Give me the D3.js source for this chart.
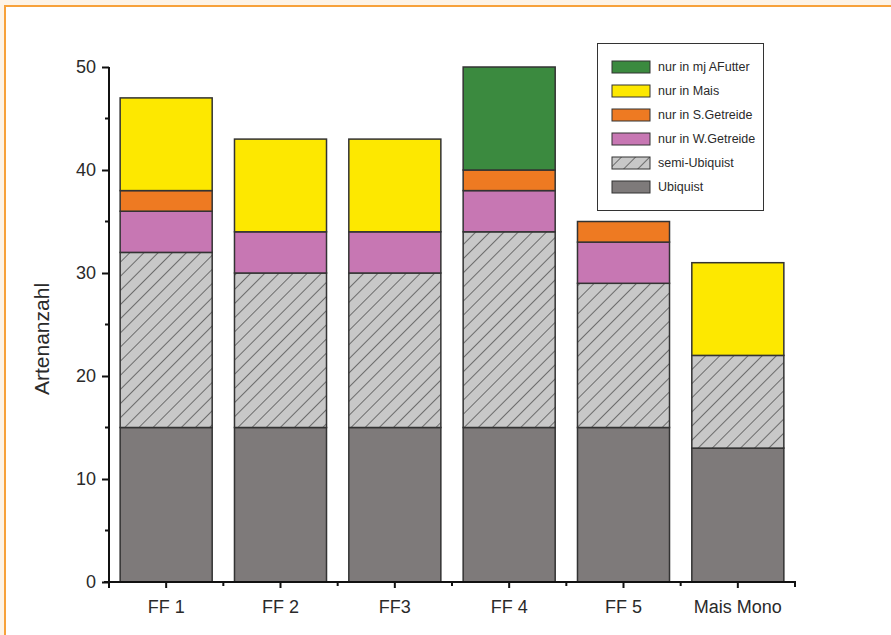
<!DOCTYPE html>
<html><head><meta charset="utf-8">
<script src="https://cdn.jsdelivr.net/npm/d3@7"></script>
<style>
html,body{margin:0;padding:0;background:#fdf3e6;}
svg{display:block;font-family:"Liberation Sans",Arial,sans-serif;}
</style></head>
<body>
<svg id="c" width="891" height="635"></svg>
<script>
const categories = ["FF 1","FF 2","FF3","FF 4","FF 5","Mais Mono"];
const seriesNames = ["Ubiquist","semi-Ubiquist","nur in W.Getreide","nur in S.Getreide","nur in Mais","nur in mj AFutter"];
const ubiquist     = [15,15,15,15,15,13];
const semiUbiquist = [17,15,15,19,14,9];
const wGetreide    = [4,4,4,4,4,0];
const sGetreide    = [2,0,0,2,2,0];
const mais         = [9,9,9,0,0,9];
const mjAFutter    = [0,0,0,10,0,0];
const yTicks = [0,10,20,30,40,50];
const legendOrder = ["nur in mj AFutter","nur in Mais","nur in S.Getreide","nur in W.Getreide","semi-Ubiquist","Ubiquist"];

const seriesValues = [ubiquist, semiUbiquist, wGetreide, sGetreide, mais, mjAFutter];
const colors = {"Ubiquist":"#7e7a7a","semi-Ubiquist":"url(#hatch)","nur in W.Getreide":"#c777b3","nur in S.Getreide":"#ee7a22","nur in Mais":"#fde800","nur in mj AFutter":"#3b8a3f"};

const svg = d3.select("#c");
svg.append("rect").attr("x",5).attr("y",6).attr("width",900).attr("height",640).attr("fill","#fff").attr("stroke","#f7a13a").attr("stroke-width",2);

const defs = svg.append("defs");
const pat = defs.append("pattern").attr("id","hatch").attr("patternUnits","userSpaceOnUse")
  .attr("width",10).attr("height",10).attr("patternTransform","rotate(45)");
pat.append("rect").attr("width",10).attr("height",10).attr("fill","#c8c8c8");
pat.append("line").attr("x1",0).attr("y1",0).attr("x2",0).attr("y2",10).attr("stroke","#444").attr("stroke-width",1.4);

const x = d3.scaleBand().domain(categories).range([109,795]).paddingInner(0.195).paddingOuter(0.0975);
const y = d3.scaleLinear().domain([0,50]).range([582,67]);

const rows = categories.map((c,i)=>{const o={cat:c}; seriesNames.forEach((s,j)=>o[s]=seriesValues[j][i]); return o;});
const stacked = d3.stack().keys(seriesNames)(rows);

const g = svg.append("g");
stacked.forEach(layer=>{
  g.selectAll(null).data(layer.filter(d=>d[1]-d[0]>0)).join("rect")
    .attr("x",d=>x(d.data.cat)).attr("width",x.bandwidth())
    .attr("y",d=>y(d[1])).attr("height",d=>y(d[0])-y(d[1]))
    .attr("fill",colors[layer.key]).attr("stroke","#333").attr("stroke-width",1.5);
});

const axCol = "#111";
const yAx = svg.append("g").attr("transform","translate(109,0)")
  .call(d3.axisLeft(y).tickValues(yTicks).tickSize(7).tickPadding(6).tickFormat(d3.format("d")));
yAx.select(".domain").attr("stroke",axCol).attr("stroke-width",2).attr("d","M0,582V67");
yAx.selectAll(".tick line").attr("stroke",axCol).attr("stroke-width",2);
yAx.selectAll(".tick text").attr("font-size",18).attr("fill","#2a2a2a");
yAx.selectAll(null).data([5,15,25,35,45]).join("line")
  .attr("x1",-4).attr("x2",0).attr("y1",d=>y(d)).attr("y2",d=>y(d)).attr("stroke",axCol).attr("stroke-width",2);

const xAx = svg.append("g").attr("transform","translate(0,582)")
  .call(d3.axisBottom(x).tickSize(6).tickPadding(12).tickSizeOuter(0));
xAx.select(".domain").attr("stroke",axCol).attr("stroke-width",2).attr("d","M104,0H795");
xAx.selectAll(".tick line").attr("stroke",axCol).attr("stroke-width",2);
xAx.selectAll(".tick text").attr("font-size",18).attr("fill","#2a2a2a");
const step = x.step();
xAx.selectAll(null).data(d3.range(1,6)).join("line")
  .attr("x1",d=>109+d*step).attr("x2",d=>109+d*step).attr("y1",0).attr("y2",4).attr("stroke",axCol).attr("stroke-width",2);
xAx.append("line").attr("x1",795).attr("x2",795).attr("y1",-1).attr("y2",5).attr("stroke",axCol).attr("stroke-width",2);
xAx.append("line").attr("x1",109).attr("x2",109).attr("y1",0).attr("y2",6).attr("stroke",axCol).attr("stroke-width",2);

svg.append("text").attr("transform","translate(49,339) rotate(-90)").attr("text-anchor","middle")
  .attr("font-size",21).attr("fill","#2a2a2a").text("Artenanzahl");

const lg = svg.append("g");
lg.append("rect").attr("x",597.5).attr("y",43.5).attr("width",166).attr("height",167).attr("fill","#fff").attr("stroke","#333").attr("stroke-width",1);
legendOrder.forEach((s,i)=>{
  const cy = 67 + i*24;
  lg.append("rect").attr("x",612).attr("y",cy-6).attr("width",38).attr("height",12)
    .attr("fill",colors[s]).attr("stroke","#333").attr("stroke-width",1);
  lg.append("text").attr("x",658).attr("y",cy+4).attr("font-size",12.5).attr("fill","#2a2a2a").text(s);
});
</script>
</body></html>
